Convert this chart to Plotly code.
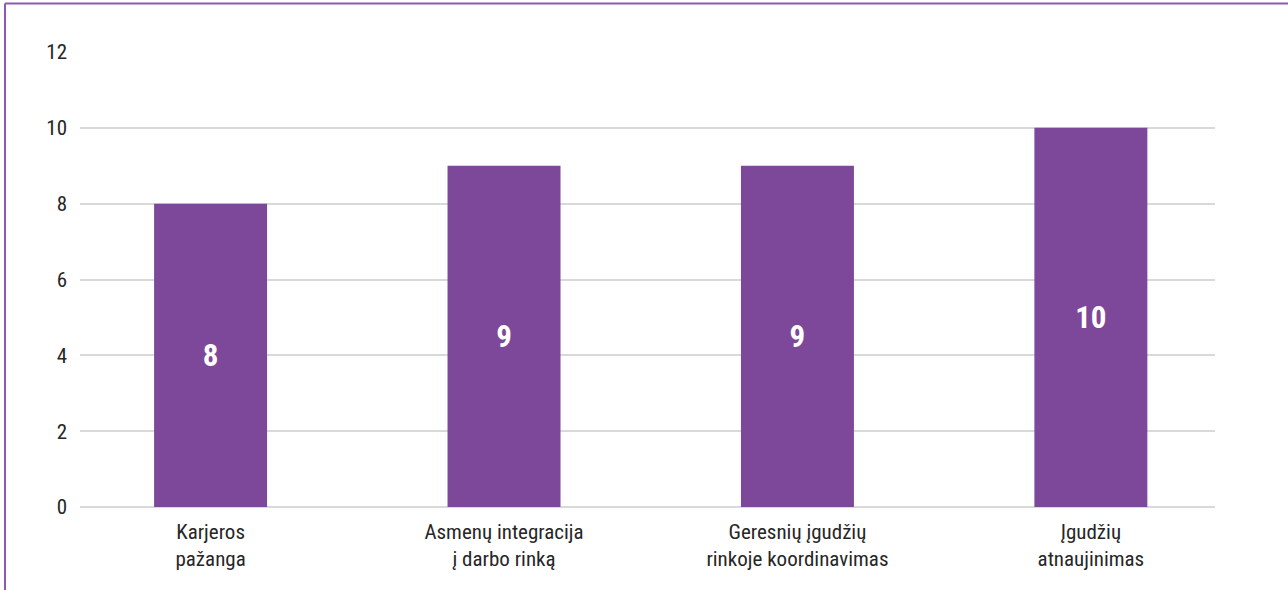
import plotly.graph_objects as go

categories = ["Karjeros<br>pažanga", "Asmenų integracija<br>į darbo rinką",
              "Geresnių įgudžių<br>rinkoje koordinavimas", "Įgudžių<br>atnaujinimas"]
values = [8, 9, 9, 10]
y_ticks = [0, 2, 4, 6, 8, 10, 12]

BAR = "#7D4899"
TXT = "#262626"
FONT = "Liberation Sans Narrow, Arial Narrow, Roboto Condensed, Liberation Sans, sans-serif"

fig = go.Figure(go.Bar(
    x=categories, y=values, marker=dict(color=BAR, line=dict(width=0)),
    width=0.385, text=[str(v) for v in values], textposition="inside",
    insidetextanchor="middle", textangle=0,
    textfont=dict(family=FONT, size=31, color="white", weight="bold"),
    hoverinfo="skip",
))

W, H = 1288, 590
L, R, T, B = 80, 73, 52, 83
pw, ph = W - L - R, H - T - B

def px(x):
    return (x - L) / pw

def py(y):
    return (H - B - y) / ph

line = dict(color="#8C5BAE", width=2)
fig.add_shape(type="line", xref="paper", yref="paper", x0=px(5), x1=px(1290), y0=py(3.5), y1=py(3.5), line=line)
fig.add_shape(type="line", xref="paper", yref="paper", x0=px(5), x1=px(5), y0=py(3.5), y1=py(592), line=line)

fig.update_layout(
    width=W, height=H, margin=dict(l=L, r=R, t=T, b=B),
    paper_bgcolor="white", plot_bgcolor="white", showlegend=False,
    font=dict(family=FONT, size=21, color=TXT),
    xaxis=dict(range=[-0.445, 3.423], showgrid=False, zeroline=False, showline=False,
               ticks="", tickfont=dict(size=21, color=TXT), ticklabelstandoff=10),
    yaxis=dict(range=[0, 12], tickvals=y_ticks, showgrid=True, gridcolor="#D9D9D9", gridwidth=1.5,
               zeroline=True, zerolinecolor="#D9D9D9", zerolinewidth=1.5, showline=False,
               ticks="", tickfont=dict(size=21, color=TXT), ticklabelstandoff=12),
)

fig.write_html("out.html", config={"displayModeBar": False},
               post_script="document.body.style.margin='0';document.body.style.overflow='hidden';")
